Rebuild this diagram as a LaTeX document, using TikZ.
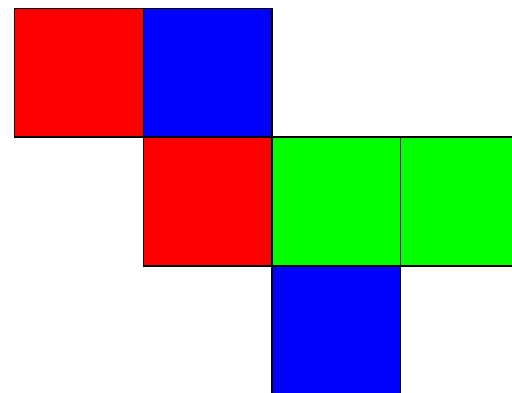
\documentclass[tikz,border=0pt]{standalone}
\usepackage{tikz}
\usetikzlibrary{positioning}
\definecolor{CellRed}{RGB}{255,0,0}
\definecolor{CellBlue}{RGB}{0,0,255}
\definecolor{CellGreen}{RGB}{0,255,0}
\begin{document}
\begin{tikzpicture}[x=128.7pt, y=128.7pt,
	cell/.style={rectangle, draw=black, line width=1.4pt, minimum size=128.7pt, inner sep=0pt},
	r/.style={cell, fill=CellRed},
	b/.style={cell, fill=CellBlue},
	g/.style={cell, fill=CellGreen}]

	\useasboundingbox (-14.5pt,8.5pt) rectangle (497.5pt,-384.5pt);
	\clip (-14.5pt,8.5pt) rectangle (497.5pt,-384.5pt);

	\node[r] (r1) at (0.5,-0.5) {};
	\node[b] (b1) at (1.5,-0.5) {};
	\node[r] (r2) at (1.5,-1.5) {};
	\node[g] (g1) at (2.5,-1.5) {};
	\node[g] (g2) at (3.5,-1.5) {};
	\node[b] (b2) at (2.5,-2.5) {};
\end{tikzpicture}
\end{document}
